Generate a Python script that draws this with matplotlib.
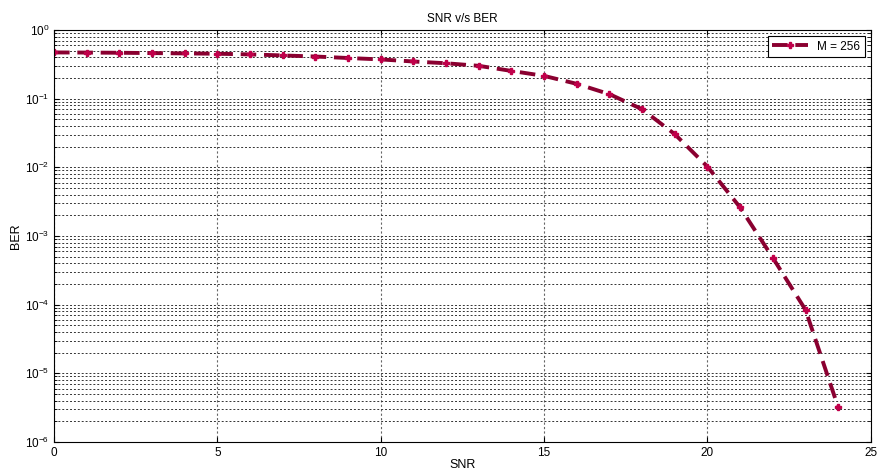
import numpy as np
import matplotlib
matplotlib.use('Agg')
import matplotlib.pyplot as plt

# Data
snr = [0, 1, 2, 3, 4, 5, 6, 7, 8, 9, 10, 11, 12, 13, 14, 15, 16, 17, 18, 19, 20, 21, 22, 23, 24]
ber = [0.47, 0.468, 0.465, 0.46, 0.455, 0.45, 0.44, 0.425, 0.41, 0.39, 0.372, 0.347,
       0.327, 0.30, 0.253, 0.214, 0.164, 0.116, 0.070, 0.0303, 0.0102, 2.6e-3, 4.8e-4,
       8.4e-5, 3.2e-6]
label = 'M = 256'

plt.rcParams['font.family'] = ['Liberation Sans', 'DejaVu Sans']
plt.rcParams['font.size'] = 8.5
plt.rcParams['mathtext.fontset'] = 'custom'
plt.rcParams['mathtext.rm'] = 'Liberation Sans'

fig = plt.figure(figsize=(8.77, 4.75), dpi=100)
ax = fig.add_axes([0.0616, 0.0695, 0.9314, 0.8675])

ax.semilogy(snr, ber, linestyle='--', color='#8a0030', linewidth=2.8,
            marker='P', markersize=5, markerfacecolor='#c0004a',
            markeredgecolor='#c0004a', dashes=(4, 2), label=label)

ax.set_xlim(0, 25)
ax.set_ylim(1e-6, 1)
ax.set_xticks([0, 5, 10, 15, 20, 25])

ax.grid(True, which='major', axis='x', linestyle=(0, (2, 2)), color='#666666', linewidth=0.8)
ax.grid(True, which='both', axis='y', linestyle=(0, (2, 2)), color='#333333', linewidth=0.7)
ax.tick_params(which='both', direction='in', top=True, right=True)
ax.tick_params(axis='x', which='minor', bottom=False, top=False)
for s in ax.spines.values():
    s.set_linewidth(0.8)

ax.set_title('SNR v/s BER', fontsize=8.5)
ax.set_xlabel('SNR', fontsize=9, labelpad=0)
ax.set_ylabel('BER', fontsize=9, labelpad=2)

leg = ax.legend(loc='upper right', fancybox=False, edgecolor='black',
                framealpha=1, handlelength=3, borderpad=0.4)
leg.get_frame().set_linewidth(0.8)

fig.savefig('out.png', dpi=100)
